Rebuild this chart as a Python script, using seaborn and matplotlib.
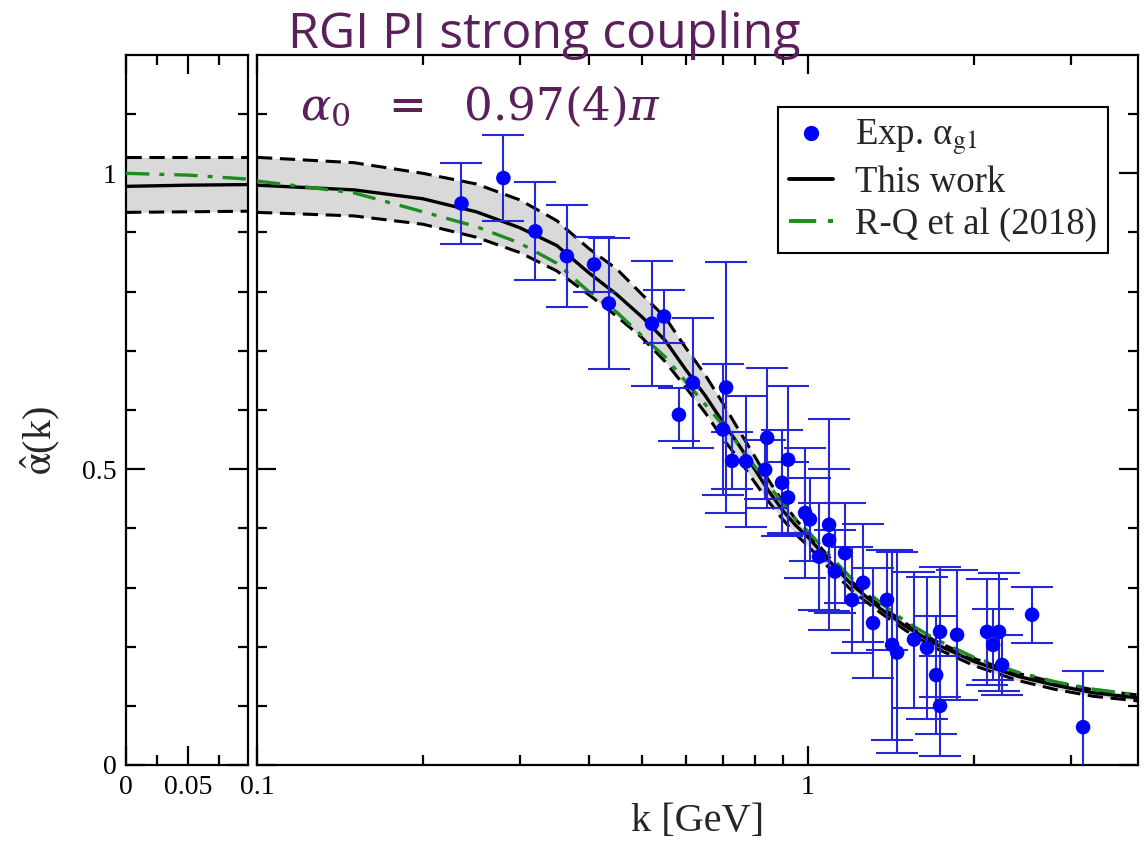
import numpy as np
import pandas as pd
import seaborn as sns
import matplotlib
matplotlib.use('Agg')
import matplotlib.pyplot as plt
from matplotlib.lines import Line2D
from matplotlib.ticker import FixedLocator, FixedFormatter, NullFormatter

# ---- curves ----
k_curve = [0.1, 0.15, 0.2, 0.25, 0.3, 0.35, 0.4, 0.45, 0.5, 0.55, 0.6, 0.65, 0.7,
           0.75, 0.8, 0.85, 0.9, 0.95, 1.0, 1.1, 1.2, 1.35, 1.5, 1.7, 2.0, 2.4,
           2.8, 3.3, 4.0]
this_work = [0.980, 0.972, 0.957, 0.935, 0.908, 0.878, 0.832, 0.795, 0.757, 0.718,
             0.668, 0.625, 0.580, 0.540, 0.500, 0.462, 0.430, 0.405, 0.385, 0.342,
             0.305, 0.265, 0.235, 0.205, 0.175, 0.150, 0.135, 0.122, 0.113]
band_upper = [1.027, 1.018, 1.000, 0.982, 0.955, 0.920, 0.873, 0.838, 0.795, 0.757,
              0.705, 0.660, 0.612, 0.565, 0.522, 0.480, 0.445, 0.415, 0.392, 0.348,
              0.310, 0.270, 0.240, 0.210, 0.180, 0.155, 0.140, 0.127, 0.118]
band_lower = [0.934, 0.928, 0.914, 0.892, 0.866, 0.835, 0.795, 0.758, 0.722, 0.682,
              0.638, 0.596, 0.552, 0.516, 0.478, 0.444, 0.415, 0.390, 0.370, 0.330,
              0.295, 0.258, 0.228, 0.198, 0.168, 0.143, 0.128, 0.116, 0.108]
rq_2018 = [0.987, 0.967, 0.935, 0.910, 0.882, 0.848, 0.800, 0.765, 0.725, 0.690,
           0.648, 0.610, 0.575, 0.540, 0.505, 0.472, 0.442, 0.415, 0.395, 0.352,
           0.315, 0.275, 0.243, 0.213, 0.182, 0.157, 0.141, 0.128, 0.118]

# left (linear, k -> 0) panel
k_low = [0.0, 0.05, 0.1]
this_work_low = [0.978, 0.980, 0.981]
upper_low = [1.027, 1.027, 1.027]
lower_low = [0.934, 0.935, 0.936]
rq_low = [1.000, 0.997, 0.990]

# ---- experimental alpha_g1 points ----
k_exp = [0.235, 0.280, 0.320, 0.365, 0.409, 0.435, 0.521, 0.548, 0.583, 0.618,
         0.701, 0.710, 0.728, 0.772, 0.836, 0.843, 0.897, 0.920, 0.920, 0.988,
         1.008, 1.047, 1.092, 1.092, 1.119, 1.167, 1.202, 1.259, 1.312, 1.391,
         1.421, 1.451, 1.557, 1.644, 1.708, 1.736, 1.736, 1.864, 2.113, 2.167,
         2.221, 2.250, 2.550, 3.156]
a_exp = [0.949, 0.992, 0.902, 0.860, 0.846, 0.780, 0.746, 0.758, 0.592, 0.646,
         0.567, 0.638, 0.514, 0.513, 0.499, 0.553, 0.477, 0.516, 0.452, 0.426,
         0.415, 0.352, 0.406, 0.380, 0.327, 0.358, 0.279, 0.308, 0.240, 0.279,
         0.203, 0.190, 0.212, 0.198, 0.152, 0.225, 0.100, 0.220, 0.225, 0.203,
         0.225, 0.169, 0.254, 0.064]
err_exp = [0.068, 0.073, 0.083, 0.086, 0.046, 0.111, 0.105, 0.044, 0.045, 0.110,
           0.110, 0.212, 0.048, 0.110, 0.050, 0.118, 0.090, 0.125, 0.060, 0.110,
           0.070, 0.090, 0.178, 0.120, 0.070, 0.085, 0.090, 0.100, 0.093, 0.085,
           0.160, 0.170, 0.115, 0.120, 0.100, 0.110, 0.085, 0.110, 0.090, 0.060,
           0.100, 0.050, 0.047, 0.095]

purple = '#5b1f5c'
blue = '#0000ff'
ebar_blue = '#2626d9'
green = '#1e8c1e'
band_grey = '#d9d9d9'

sns.set_theme(style='ticks')
plt.rcParams['font.family'] = ['Liberation Serif', 'DejaVu Serif']
plt.rcParams['mathtext.fontset'] = 'stix'
plt.rcParams['axes.linewidth'] = 1.6

curves = pd.DataFrame({'k': k_curve, 'this': this_work, 'up': band_upper,
                       'lo': band_lower, 'rq': rq_2018})
curves_low = pd.DataFrame({'k': k_low, 'this': this_work_low, 'up': upper_low,
                           'lo': lower_low, 'rq': rq_low})
exp = pd.DataFrame({'k': k_exp, 'a': a_exp, 'err': err_exp})

W, H = 1148, 842
fig = plt.figure(figsize=(W / 100, H / 100), dpi=100)
fig.patch.set_facecolor('white')
ax1 = fig.add_axes([126 / W, 77 / H, 122 / W, 710 / H])
ax2 = fig.add_axes([257 / W, 77 / H, 881 / W, 710 / H])

dash = (0, (5, 2.5))
dashdot = (0, (7, 3, 1.5, 3))


def draw_curves(ax, df):
    ax.fill_between(df['k'], df['lo'], df['up'], color=band_grey, lw=0, zorder=1)
    sns.lineplot(data=df, x='k', y='up', ax=ax, color='black', lw=2.2,
                 linestyle=dash, zorder=3, sort=False)
    sns.lineplot(data=df, x='k', y='lo', ax=ax, color='black', lw=2.2,
                 linestyle=dash, zorder=3, sort=False)
    sns.lineplot(data=df, x='k', y='this', ax=ax, color='black', lw=2.4,
                 zorder=4, sort=False)
    sns.lineplot(data=df, x='k', y='rq', ax=ax, color=green, lw=2.4,
                 linestyle=dashdot, zorder=5, sort=False)


draw_curves(ax1, curves_low)
ax2.set_xscale('log')
draw_curves(ax2, curves)

ax2.errorbar(exp['k'], exp['a'], yerr=exp['err'], fmt='none', ecolor=ebar_blue,
             elinewidth=1.5, capsize=15, capthick=1.5, zorder=6)
sns.scatterplot(data=exp, x='k', y='a', ax=ax2, color=blue, s=110,
                edgecolor='none', zorder=7)

for ax in (ax1, ax2):
    ax.set_ylim(0, 1.2)
    ax.set_xlabel('')
    ax.set_ylabel('')
    ax.yaxis.set_major_locator(FixedLocator([0, 0.5, 1.0]))
    ax.yaxis.set_minor_locator(FixedLocator([0.1, 0.2, 0.3, 0.4, 0.6, 0.7, 0.8, 0.9, 1.1]))
    ax.tick_params(which='both', direction='in', top=True, right=True,
                   colors='black', labelsize=20, width=1.6, pad=7)
    ax.tick_params(which='major', length=14)
    ax.tick_params(which='minor', length=7)
    for s in ax.spines.values():
        s.set_color('black')

ax1.set_xlim(0, 0.098)
ax1.xaxis.set_major_locator(FixedLocator([0, 0.05]))
ax1.xaxis.set_major_formatter(FixedFormatter(['0', '0.05']))
ax1.xaxis.set_minor_locator(FixedLocator([0.025, 0.075]))
ax1.yaxis.set_major_formatter(FixedFormatter(['0', '0.5', '1']))

ax2.set_xlim(0.1, 3.97)
ax2.xaxis.set_major_locator(FixedLocator([0.1, 1.0]))
ax2.xaxis.set_major_formatter(FixedFormatter(['0.1', '1']))
ax2.xaxis.set_minor_locator(FixedLocator([0.2, 0.3, 0.4, 0.5, 0.6, 0.7, 0.8, 0.9, 2, 3]))
ax2.xaxis.set_minor_formatter(NullFormatter())
ax2.yaxis.set_major_formatter(NullFormatter())
ax2.set_xlabel('k [GeV]', fontsize=29, labelpad=2)

fig.text(40 / W, 1 - 440 / H, r'$\hat{\mathrm{\alpha}}$(k)', rotation=90,
         fontsize=29, ha='center', va='center')

handles = [
    Line2D([], [], color=blue, marker='o', linestyle='none', markersize=10),
    Line2D([], [], color='black', lw=2.8),
    Line2D([], [], color=green, lw=2.8, linestyle=dashdot),
]
labels = [r'Exp. α$_{\rm g1}$', 'This work', 'R-Q et al (2018)']
leg = fig.legend(handles, labels, loc='upper right',
                 bbox_to_anchor=(1108 / W, 1 - 107 / H), bbox_transform=fig.transFigure,
                 fontsize=26.5, frameon=True, fancybox=False, edgecolor='black',
                 framealpha=1, borderaxespad=0, handlelength=1.2, handletextpad=0.6,
                 labelspacing=0.2, borderpad=0.3)
leg.get_frame().set_linewidth(1.5)

fig.text(288 / W, 1 - 48 / H, 'RGI PI strong coupling', fontsize=36, color=purple,
         family=['Open Sans', 'DejaVu Sans'], ha='left', va='baseline')
fig.text(300 / W, 1 - 120 / H, r'$\alpha_0\ \ =\ \ 0.97(4)\pi$', fontsize=32.5, color=purple,
         math_fontfamily='dejavuserif', ha='left', va='baseline')

fig.savefig('out.png', dpi=100, facecolor='white')
